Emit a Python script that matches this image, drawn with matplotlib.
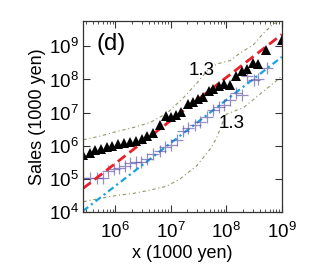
import numpy as np
import matplotlib
matplotlib.use("Agg")
import matplotlib.pyplot as plt

plt.rcParams['font.family'] = ['Liberation Sans', 'DejaVu Sans']
plt.rcParams['mathtext.fontset'] = 'custom'
plt.rcParams['mathtext.rm'] = 'Liberation Sans'
plt.rcParams['mathtext.default'] = 'regular'

# black triangles: log10 x, log10 sales
tri_logx = [5.43, 5.54, 5.64, 5.74, 5.85, 5.95, 6.06, 6.16, 6.27, 6.38, 6.48, 6.58, 6.68,
            6.80, 6.91, 7.01, 7.10, 7.19, 7.31, 7.40, 7.49, 7.58, 7.68, 7.76, 7.86, 7.96,
            8.07, 8.18, 8.28, 8.38, 8.48, 8.57, 8.72, 9.00]
tri_logy = [5.72, 5.79, 5.86, 5.90, 5.96, 5.99, 6.05, 6.08, 6.11, 6.15, 6.21, 6.28, 6.37,
            6.63, 6.91, 6.86, 6.93, 7.02, 7.25, 7.33, 7.41, 7.46, 7.64, 7.70, 7.79, 7.87,
            7.82, 8.11, 8.25, 8.33, 8.49, 8.46, 8.90, 9.20]

# crosses
crs_logx = [5.43, 5.55, 5.67, 5.78, 5.88, 5.98, 6.07, 6.17, 6.27, 6.37, 6.47, 6.57, 6.68,
            6.80, 6.90, 7.00, 7.11, 7.22, 7.32, 7.44, 7.53, 7.65, 7.76, 7.86, 7.96, 8.07,
            8.18, 8.28, 8.38, 8.49, 8.57, 8.73]
crs_logy = [5.02, 5.02, 5.02, 5.03, 5.24, 5.30, 5.32, 5.38, 5.48, 5.50, 5.51, 5.60, 5.75,
            5.83, 5.97, 6.02, 6.18, 6.43, 6.53, 6.63, 6.73, 6.88, 7.08, 7.18, 7.23, 7.38,
            7.59, 7.53, 8.09, 7.99, 8.02, 8.34]

# power-law fits (slope 1.3)
slope = 1.3
red_icpt = -2.34
blue_icpt = -3.02

# dash-dot envelopes
up_logx = [5.43, 5.73, 6.03, 6.33, 6.63, 6.93, 7.23, 7.47, 7.65, 7.83, 8.07, 8.25, 8.49, 8.67, 8.85, 9.00]
up_logy = [6.18, 6.29, 6.43, 6.55, 6.70, 6.98, 7.45, 7.89, 8.25, 8.47, 8.57, 8.80, 9.05, 9.40, 9.68, 9.78]
lo_logx = [5.43, 5.73, 6.03, 6.33, 6.63, 6.93, 7.17, 7.47, 7.71, 7.83, 7.92, 8.00, 8.15, 8.31, 8.55, 8.85, 9.00]
lo_logy = [4.31, 4.41, 4.50, 4.56, 4.66, 4.78, 5.00, 5.40, 5.90, 6.25, 6.65, 6.95, 7.05, 7.15, 7.48, 7.89, 8.10]

fig = plt.figure(figsize=(3.27, 2.70), dpi=100)
ax = fig.add_axes([0.254, 0.215, 0.608, 0.707])

p = lambda v: 10 ** np.array(v)

ax.plot(p(up_logx), p(up_logy), color='#8c9a6a', lw=0.8, dashes=(3, 2.5, 1, 2.5))
ax.plot(p(lo_logx), p(lo_logy), color='#8c9a6a', lw=0.8, dashes=(3, 2.5, 1, 2.5))

fx = np.array([5.42, 9.0])
ax.plot(p(fx), p(slope * fx + blue_icpt), color='#1aa3e0', lw=1.6, dashes=(3, 1.6, 1, 1.6))
ax.plot(p(crs_logx), p(crs_logy), '+', color='#5b50a8', alpha=0.65, ms=8, mew=0.9)
ax.plot(p(fx), p(slope * fx + red_icpt), color='#e8202a', lw=2.0, dashes=(3.5, 1.8))
ax.plot(p(tri_logx), p(tri_logy), '^', color='black', ms=6.5, mew=0)

ax.set_xscale('log')
ax.set_yscale('log')
ax.set_xlim(2.65e5, 1e9)
ax.set_ylim(1e4, 5.8e9)
ax.set_xticks([1e6, 1e7, 1e8, 1e9])
ax.set_xticklabels(['$10^{6}$', '$10^{7}$', '$10^{8}$', '$10^{9}$'])
ax.set_yticks([1e4, 1e5, 1e6, 1e7, 1e8, 1e9])
ax.set_yticklabels(['$10^{4}$', '$10^{5}$', '$10^{6}$', '$10^{7}$', '$10^{8}$', '$10^{9}$'])
ax.tick_params(which='both', direction='in', top=True, right=True, labelsize=13.5, color='#333333')
ax.tick_params(which='major', length=5, width=0.8)
ax.tick_params(which='minor', length=2.5, width=0.6)
ax.tick_params(axis='x', pad=7)
ax.tick_params(axis='y', pad=3)
for s in ax.spines.values():
    s.set_linewidth(0.9)
    s.set_color('#333333')

ax.text(0.07, 0.88, '(d)', transform=ax.transAxes, fontsize=17, va='center', ha='left')
ax.text(10 ** 7.56, 10 ** 8.28, '1.3', fontsize=13.5, ha='center', va='center')
ax.text(10 ** 8.10, 10 ** 6.68, '1.3', fontsize=13.5, ha='center', va='center')

ax.set_xlabel('x (1000 yen)', fontsize=13, labelpad=2)
ax.set_ylabel('Sales (1000 yen)', fontsize=13, labelpad=2)

fig.savefig('out.png', dpi=100)
